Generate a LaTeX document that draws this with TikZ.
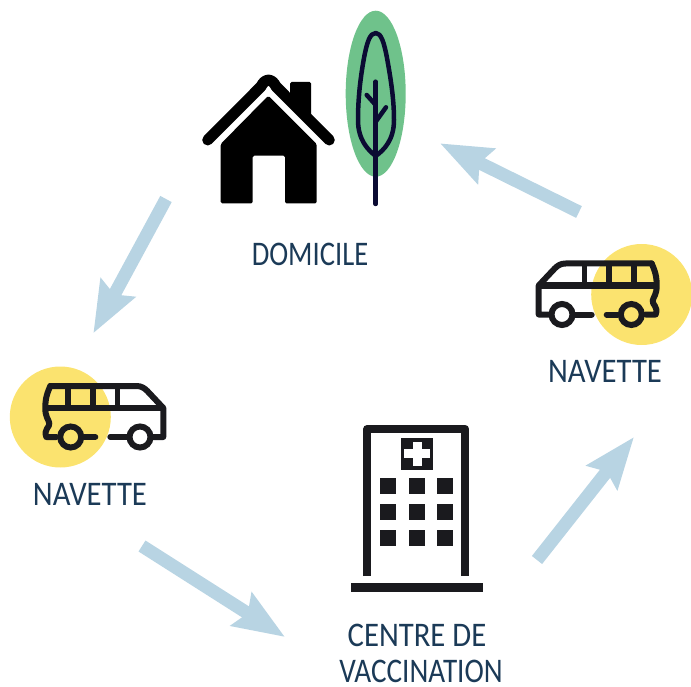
\documentclass[tikz,border=0pt]{standalone}
\usepackage{fontspec}
\setmainfont[FakeStretch=0.89]{Carlito}
\usetikzlibrary{arrows.meta}
\definecolor{fleche}{HTML}{B8D4E3}
\definecolor{vert}{HTML}{6FC28B}
\definecolor{jaune}{HTML}{FBE36F}
\definecolor{encre}{HTML}{1A1A1E}
\definecolor{nuit}{HTML}{0B0B33}
\definecolor{titre}{HTML}{1B3A57}
\tikzset{
fleche/.style={draw=fleche, line width=13pt, -{Stealth[length=51pt, width=38pt, inset=7pt]}},
titre/.style={text=titre, font=\fontsize{34.5}{34.5}\selectfont, inner sep=0pt},
fenetre/.style={shape=rectangle, fill=encre, minimum size=16pt, inner sep=0pt},
pics/navette/.style={code={
    \fill[jaune] (0,0) circle (50.5);
    \draw[encre, line width=6pt, line join=round, line cap=round] (-10,-31) -- (76,-31) .. controls (81,-31) and (84,-29) .. (87,-26) -- (103,-9) -- (103,20) -- (91,20);
    \draw[encre, line width=6pt, line join=round, line cap=round] (-10,-31) .. controls (-15,-20) and (-15,-14) .. (-15,-9) .. controls (-15,0) and (-12,2) .. (-11,6) .. controls (-10,10) and (-17,12) .. (-14,20) -- (-4,20);
    \draw[encre, line width=6pt] (-15,-9) -- (103,-9);
    \draw[encre, line width=6pt] (8,-31) -- (8,-9);
    \draw[encre, line width=6pt] (33,-31) -- (33,-9);
    \draw[encre, line width=5pt] (57,-31) -- (57,-9);
    \draw[encre, line width=6pt] (10.4,20) circle (10.5);
    \draw[encre, line width=6pt] (79.7,20) circle (10.5);
    \draw[encre, line width=6pt, line cap=round] (24,20) -- (35,20);
    \draw[encre, line width=6pt, line cap=round] (50,20) -- (67,20);
}}
}
\begin{document}
\begin{tikzpicture}[x=1pt, y=-1pt]
    \useasboundingbox (0,0) rectangle (691,687);

    % maison
    \fill[black, rounded corners=1.5pt] (290,82) -- (311,82) -- (311,118) -- (290,100) -- cycle;
    \draw[black, line width=11pt, line cap=round, line join=round] (207.7,140) -- (261,86.5) .. controls (265,78) and (272,78) .. (276,86.5) -- (329.3,140);
    \fill[black, rounded corners=1.5pt] (268.3,95.7) -- (316.7,144) -- (316.7,203.3) -- (285,203.3) -- (285,155.7) -- (252.7,155.7) -- (252.7,203.3) -- (220.7,203.3) -- (220.7,144) -- cycle;

    % arbre
    \fill[vert] (375.7,93.7) ellipse (30 and 83);
    \draw[nuit, line width=4.5pt, line join=round] (375.7,33) .. controls (370,33) and (367,42) .. (364,58) .. controls (360,80) and (358,100) .. (358,120) .. controls (358,140) and (368,150) .. (375.7,156) .. controls (384,150) and (394,140) .. (394,120) .. controls (394,100) and (391,80) .. (387,58) .. controls (384,42) and (381,33) .. (375.7,33) -- cycle;
    \draw[nuit, line width=4.5pt, line cap=round] (375.7,81.7) -- (375.7,204);
    \draw[nuit, line width=4.5pt, line cap=round] (366.7,95) -- (375.7,105);
    \draw[nuit, line width=4.5pt, line cap=round] (386,107.3) -- (375.7,121.7);

    % navettes
    \pic (N1) at (60.3,417) {navette};
    \pic[xscale=-1] (N2) at (641.7,294.5) {navette};

    % centre
    \draw[encre, line width=8pt, line join=round] (367.3,576) -- (367.3,429) -- (465.3,429) -- (465.3,576);
    \fill[encre] (351,583) rectangle (483,592);
    \fill[encre] (401,437.7) rectangle (432.7,470);
    \fill[white] (404,449.3) rectangle (430,458.3);
    \fill[white] (412.7,441.7) rectangle (421.7,465.7);
    \node[fenetre] (F1) at (388,486) {};
    \node[fenetre] (F2) at (417,486) {};
    \node[fenetre] (F3) at (445,486) {};
    \node[fenetre] (F4) at (388,512) {};
    \node[fenetre] (F5) at (417,512) {};
    \node[fenetre] (F6) at (445,512) {};
    \node[fenetre] (F7) at (388,538) {};
    \node[fenetre] (F8) at (417,538) {};
    \node[fenetre] (F9) at (445,538) {};

    % textes
    \node[titre, xscale=0.93] (D) at (310,254) {DOMICILE};
    \node[titre] (L1) at (90,494) {NAVETTE};
    \node[titre] (L2) at (605,371) {NAVETTE};
    \node[titre] (C1) at (417,635) {CENTRE DE};
    \node[titre, xscale=0.95] (C2) at (421,671) {VACCINATION};

    % fleches
    \coordinate (A1) at (166,199);
    \coordinate (B1) at (93.3,333.3);
    \coordinate (A2) at (142,546);
    \coordinate (B2) at (285,637);
    \coordinate (A3) at (537,560);
    \coordinate (B3) at (634,437);
    \coordinate (A4) at (579,212);
    \coordinate (B4) at (440,143.3);
    \draw[fleche] (A1) -- (B1);
    \draw[fleche] (A2) -- (B2);
    \draw[fleche] (A3) -- (B3);
    \draw[fleche] (A4) -- (B4);

\end{tikzpicture}
\end{document}
